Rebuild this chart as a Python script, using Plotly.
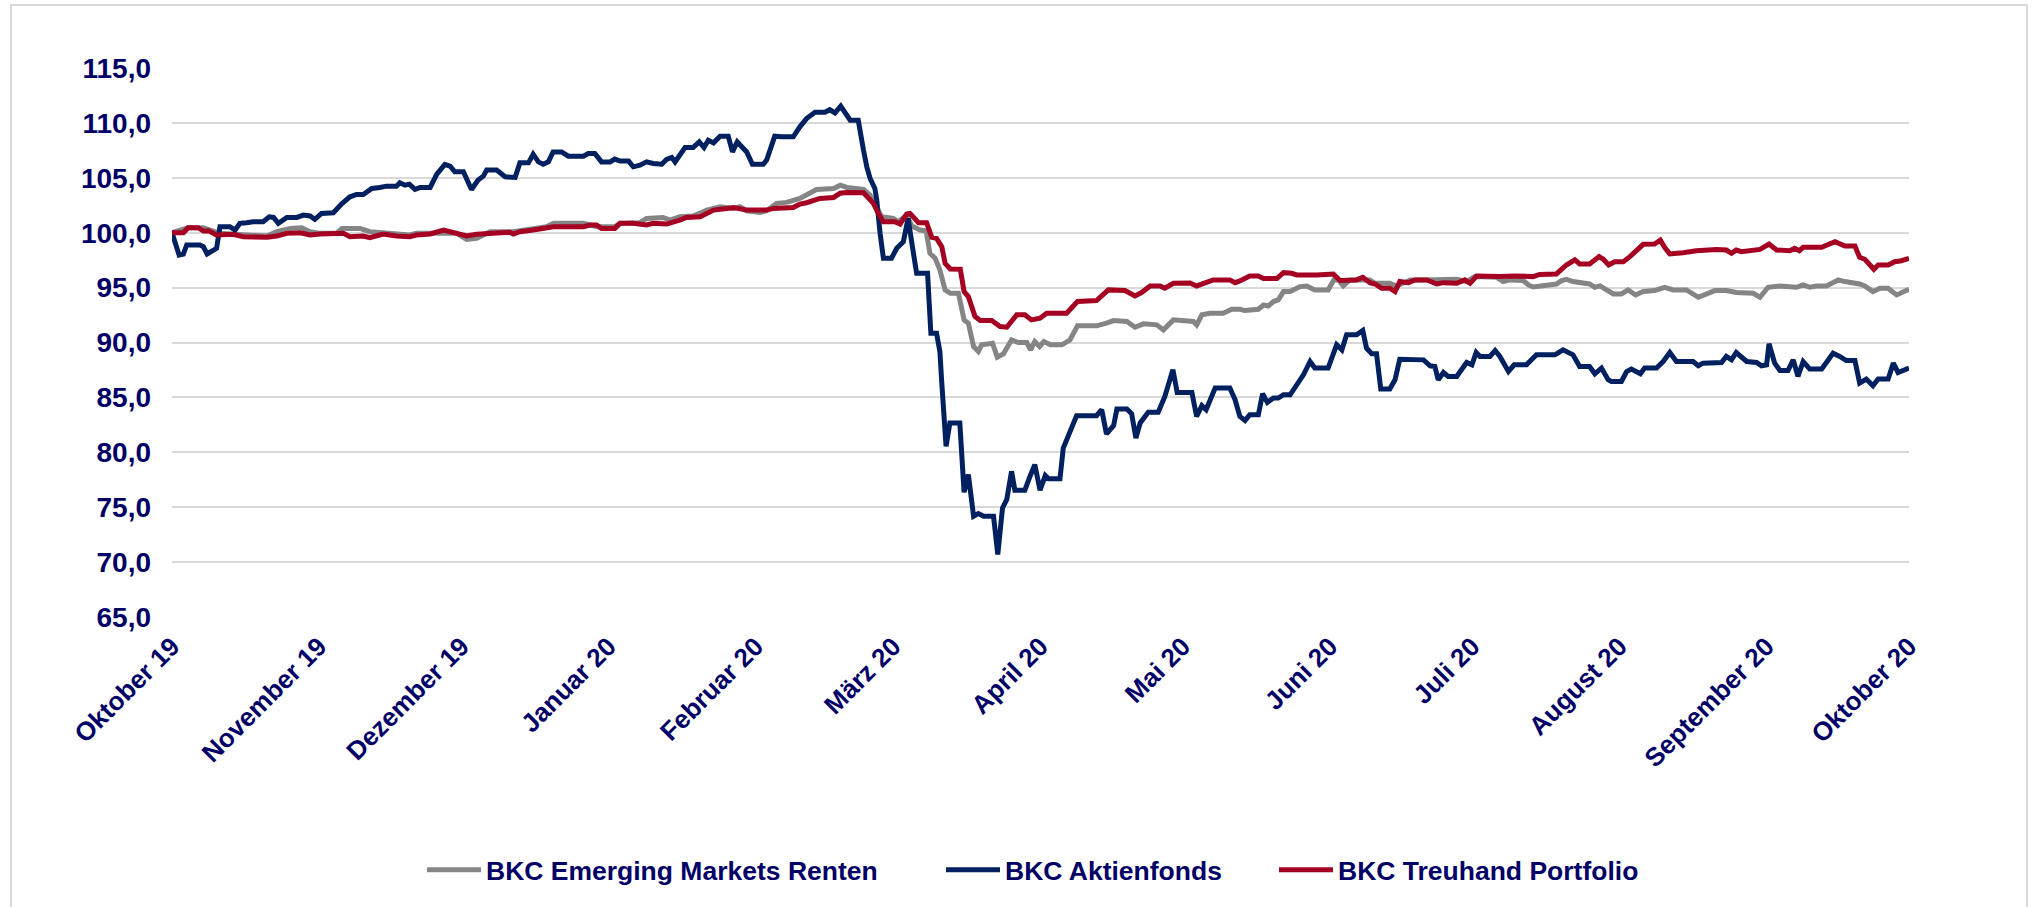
import pandas as pd
import plotly.graph_objects as go

START = pd.Timestamp("2019-10-01")

# Month tick labels (German)
month_labels = ["Oktober 19", "November 19", "Dezember 19", "Januar 20", "Februar 20", "März 20",
                "April 20", "Mai 20", "Juni 20", "Juli 20", "August 20", "September 20", "Oktober 20"]
month_dates = ["2019-10-01", "2019-11-01", "2019-12-01", "2020-01-01", "2020-02-01", "2020-03-01",
               "2020-04-01", "2020-05-01", "2020-06-01", "2020-07-01", "2020-08-01", "2020-09-01", "2020-10-01"]

# ---- BKC Aktienfonds (days since 1 Oct 2019, index value) ----
akt_days = [0, 1.5, 2.4, 3.1, 5.9, 6.6, 7.4, 8.4, 9.4, 10.1, 12.2, 13.3, 14.3, 15.7, 17.1, 19.2, 20.5, 21.4, 22.4,
            24.2, 26.3, 27.7, 29.1, 30.1, 31.5, 34.0, 35.7, 37.5, 38.9, 40.3, 42.1, 43.8, 45.2, 47.3, 48.0, 49.1,
            50.0, 51.2, 52.3, 54.4, 55.8, 57.5, 58.6, 59.6, 61.4, 63.1, 64.5, 65.6, 66.3, 68.4, 70.2, 72.3, 73.3,
            75.1, 76.1, 77.2, 78.2, 79.3, 80.3, 82.1, 83.5, 86.7, 87.7, 89.1, 90.5, 92.3, 93.3, 94.4, 96.2, 97.2,
            98.6, 100.0, 101.4, 103.2, 104.2, 105.3, 106.0, 108.1, 109.8, 111.1, 112.1, 113.0, 114.1, 115.5, 117.2,
            118.1, 119.1, 120.4, 121.1, 122.3, 124.6, 125.3, 127.0, 128.5, 130.9, 132.3, 133.7, 135.5, 137.6, 138.6,
            139.7, 140.9, 141.8, 142.9, 144.6, 145.0, 145.7, 146.4, 147.1, 148.1, 148.5, 149.2, 149.9, 151.6, 152.7,
            154.1, 155.1, 155.9, 156.9, 159.2, 159.9, 161.1, 161.8, 162.2, 163.1, 163.9, 166.0, 166.9, 167.8, 168.9,
            169.9, 171.0, 173.1, 174.0, 175.0, 175.9, 176.9, 177.6, 179.7, 180.8, 181.8, 182.9, 184.0, 184.7, 187.1,
            187.8, 188.9, 190.6, 194.8, 195.9, 196.9, 198.4, 199.1, 201.2, 202.2, 203.1, 204.0, 205.7, 207.8, 209.2,
            210.9, 211.8, 214.9, 215.9, 217.0, 217.9, 219.8, 222.9, 224.0, 225.0, 226.1, 227.1, 228.9, 229.8, 230.8,
            232.1, 233.1, 234.2, 235.6, 237.0, 238.4, 239.8, 240.8, 243.6, 245.4, 246.5, 247.5, 249.6, 250.9, 251.7,
            252.8, 253.8, 254.7, 256.6, 257.7, 258.7, 260.2, 263.7, 265.1, 266.1, 266.8, 267.9, 268.9, 270.7, 271.7,
            272.8, 273.9, 274.8, 275.6, 277.7, 278.8, 279.8, 281.6, 282.8, 285.4, 287.5, 291.4, 293.1, 295.2, 296.6,
            298.7, 299.8, 301.2, 302.6, 303.3, 305.4, 306.5, 307.5, 309.4, 310.3, 312.8, 314.2, 315.6, 317.0, 320.5,
            321.6, 322.6, 326.5, 327.5, 328.6, 329.6, 331.8, 333.9, 334.9, 336.0, 336.5, 337.7, 338.8, 340.5, 341.6,
            342.6, 343.7, 345.1, 347.6, 348.6, 350.0, 351.4, 352.8, 354.6, 355.6, 357.0, 358.4, 359.5, 361.6, 362.7,
            363.7, 366.0]
akt_vals = [100.0, 97.97, 98.06, 98.88, 98.88, 98.73, 98.06, 98.27, 98.58, 100.55, 100.55, 100.24, 100.85, 100.91,
            101.0, 101.0, 101.45, 101.39, 100.85, 101.39, 101.39, 101.6, 101.52, 101.21, 101.76, 101.82, 102.61,
            103.27, 103.48, 103.48, 104.03, 104.12, 104.24, 104.24, 104.55, 104.33, 104.42, 103.94, 104.12, 104.12,
            105.33, 106.21, 106.06, 105.55, 105.55, 103.94, 104.79, 105.15, 105.7, 105.7, 105.09, 105.03, 106.36,
            106.36, 107.15, 106.45, 106.24, 106.45, 107.36, 107.36, 106.97, 106.97, 107.21, 107.21, 106.45, 106.45,
            106.7, 106.52, 106.52, 106.0, 106.15, 106.45, 106.3, 106.24, 106.67, 106.85, 106.45, 107.76, 107.76,
            108.27, 107.76, 108.42, 108.18, 108.79, 108.79, 107.36, 108.27, 107.67, 107.36, 106.24, 106.24, 106.61,
            108.79, 108.73, 108.73, 109.64, 110.39, 110.97, 110.97, 111.21, 110.91, 111.52, 110.85, 110.24, 110.24,
            109.03, 107.52, 106.0, 104.94, 104.03, 102.97, 99.94, 97.67, 97.67, 98.58, 99.18, 101.3, 99.03, 96.3,
            96.3, 90.85, 90.85, 89.18, 86.3, 80.55, 82.67, 82.67, 76.36, 77.97, 74.18, 74.42, 74.18, 74.18, 70.7,
            74.94, 75.7, 78.27, 76.55, 76.55, 77.82, 78.88, 76.55, 77.88, 77.58, 77.58, 80.39, 81.45, 83.33, 83.33,
            83.88, 81.67, 82.42, 83.94, 83.94, 83.52, 81.3, 82.67, 83.64, 83.64, 85.09, 87.52, 85.45, 85.45, 83.27,
            84.24, 83.88, 85.85, 85.85, 84.79, 83.27, 82.9, 83.42, 83.42, 85.33, 84.55, 84.94, 84.94, 85.24, 85.24,
            86.06, 87.06, 88.27, 87.67, 87.67, 89.79, 89.33, 90.7, 90.7, 91.09, 89.48, 88.97, 88.97, 85.76, 85.76,
            86.6, 88.48, 88.48, 88.42, 87.88, 87.82, 86.6, 87.27, 86.91, 86.91, 87.52, 88.18, 87.97, 89.09, 88.73,
            88.73, 89.27, 88.73, 87.36, 87.97, 87.97, 88.88, 88.88, 89.33, 88.88, 87.82, 87.82, 87.15, 87.67, 86.61,
            86.45, 86.45, 87.36, 87.58, 87.15, 87.67, 87.67, 88.27, 89.09, 88.27, 88.27, 87.88, 88.12, 88.18, 88.73,
            88.42, 89.09, 88.27, 88.18, 87.88, 87.97, 89.88, 88.12, 87.45, 87.45, 88.42, 86.91, 88.27, 87.58, 87.58,
            88.18, 89.03, 88.73, 88.36, 88.36, 86.3, 86.67, 86.06, 86.67, 86.67, 88.12, 87.27, 87.67]

# ---- BKC Treuhand Portfolio ----
tre_days = [0, 2.4, 3.4, 5.5, 6.6, 7.7, 9.4, 12.9, 15.0, 20.0, 22.1, 24.2, 27.0, 29.1, 31.2, 36.1, 37.5, 40.3, 41.7,
            44.5, 47.3, 50.1, 51.5, 54.4, 57.2, 60.0, 62.1, 64.2, 67.0, 71.2, 71.9, 73.3, 76.1, 78.9, 80.4, 86.7,
            88.1, 89.5, 90.5, 93.3, 94.4, 97.2, 100.0, 101.4, 104.2, 107.0, 108.4, 111.3, 114.1, 116.9, 118.3, 121.1,
            123.9, 125.3, 126.7, 130.9, 132.3, 133.7, 136.5, 139.4, 140.8, 142.2, 145.7, 146.7, 147.8, 148.8, 149.9,
            152.3, 153.4, 154.8, 155.5, 157.3, 159.0, 160.1, 161.1, 162.2, 162.9, 164.0, 166.1, 166.9, 167.8, 169.2,
            170.3, 172.7, 174.5, 175.9, 178.0, 179.7, 181.1, 182.9, 184.3, 188.5, 190.8, 194.8, 197.3, 200.8, 202.9,
            204.3, 206.1, 208.2, 209.2, 211.0, 214.5, 215.9, 217.3, 219.4, 222.9, 224.0, 225.0, 227.1, 228.9, 230.0,
            232.8, 234.2, 235.9, 237.0, 241.2, 244.7, 246.1, 249.6, 250.9, 252.4, 253.5, 254.9, 256.6, 257.7, 258.7,
            260.5, 261.9, 264.4, 266.5, 267.9, 270.7, 272.4, 273.5, 274.9, 279.8, 283.0, 286.8, 288.2, 291.7, 293.8,
            295.6, 296.6, 298.7, 300.7, 301.6, 302.7, 304.0, 305.8, 307.2, 310.0, 312.4, 313.6, 314.5, 315.6, 318.4,
            321.2, 325.4, 327.5, 328.6, 329.6, 330.7, 334.6, 336.5, 338.1, 340.9, 341.9, 342.9, 343.7, 347.6, 350.4,
            352.5, 354.6, 355.6, 356.7, 358.6, 359.5, 361.6, 363.0, 364.4, 366.0]
tre_vals = [100.0, 100.0, 100.45, 100.45, 100.15, 100.18, 99.79, 99.85, 99.64, 99.58, 99.7, 99.94, 100.0, 99.79, 99.88,
            99.94, 99.64, 99.7, 99.55, 99.88, 99.7, 99.64, 99.79, 99.88, 100.24, 99.94, 99.7, 99.85, 99.94, 100.03,
            99.88, 100.09, 100.24, 100.39, 100.55, 100.55, 100.7, 100.7, 100.39, 100.39, 100.85, 100.85, 100.7, 100.85,
            100.79, 101.15, 101.39, 101.45, 102.06, 102.21, 102.3, 102.06, 102.0, 102.06, 102.21, 102.3, 102.61,
            102.73, 103.12, 103.21, 103.6, 103.67, 103.64, 103.12, 102.67, 101.76, 101.0, 101.0, 100.79, 101.7, 101.76,
            100.91, 100.91, 99.58, 99.48, 98.73, 97.21, 96.7, 96.67, 94.64, 94.18, 92.36, 92.0, 92.0, 91.45, 91.39,
            92.52, 92.52, 92.06, 92.21, 92.67, 92.67, 93.73, 93.82, 94.79, 94.73, 94.24, 94.55, 95.15, 95.15, 94.94,
            95.39, 95.42, 95.15, 95.33, 95.7, 95.7, 95.45, 95.61, 96.06, 96.06, 95.82, 95.82, 96.36, 96.3, 96.15,
            96.15, 96.24, 95.64, 95.7, 95.94, 95.45, 95.33, 94.94, 94.94, 94.64, 95.55, 95.45, 95.7, 95.7, 95.33,
            95.45, 95.39, 95.7, 95.39, 96.06, 96.0, 96.06, 96.0, 96.2, 96.24, 97.06, 97.52, 97.15, 97.15, 97.82,
            97.58, 97.06, 97.36, 97.36, 97.82, 98.94, 98.97, 99.33, 98.67, 98.06, 98.18, 98.36, 98.48, 98.42, 98.12,
            98.42, 98.27, 98.48, 98.97, 98.42, 98.36, 98.58, 98.36, 98.67, 98.67, 99.18, 98.79, 98.79, 97.76, 97.58,
            96.67, 97.06, 97.06, 97.36, 97.45, 97.67]

# ---- BKC Emerging Markets Renten ----
emr_days = [0, 2.4, 3.4, 6.6, 8.4, 10.1, 12.9, 15.0, 20.0, 22.1, 24.9, 27.3, 29.1, 31.2, 34.7, 35.8, 39.6, 41.7, 44.5,
            47.3, 50.1, 51.5, 54.4, 57.2, 60.0, 62.1, 64.2, 65.6, 67.0, 71.9, 78.9, 80.4, 86.7, 89.5, 93.3, 94.4, 98.6,
            100.0, 103.5, 104.9, 107.0, 109.8, 112.7, 115.5, 118.3, 119.7, 121.1, 123.9, 125.3, 127.4, 129.5, 132.3,
            135.8, 139.4, 140.8, 142.2, 145.7, 147.1, 148.1, 149.5, 152.0, 153.0, 154.8, 155.9, 157.6, 158.9, 159.7,
            160.8, 161.8, 162.9, 164.0, 165.7, 166.9, 167.8, 168.9, 169.9, 170.6, 172.9, 173.9, 175.2, 176.9, 178.3,
            180.1, 180.9, 181.8, 182.8, 183.7, 185.1, 187.5, 189.2, 190.8, 194.8, 196.9, 198.4, 201.2, 202.9, 204.7,
            207.5, 208.9, 211.0, 215.2, 215.9, 217.0, 218.7, 221.5, 223.3, 225.0, 226.1, 228.9, 230.0, 231.0, 232.1,
            233.1, 234.2, 235.6, 237.7, 239.1, 240.8, 243.6, 244.8, 245.8, 246.8, 248.2, 252.4, 253.5, 256.6, 258.0,
            260.9, 263.7, 267.2, 270.7, 272.8, 274.5, 279.1, 280.5, 281.9, 284.7, 285.8, 286.8, 291.7, 292.8, 293.8,
            295.2, 298.7, 299.8, 300.9, 302.3, 303.7, 305.4, 306.8, 308.4, 310.0, 312.4, 314.5, 316.3, 319.1, 321.6,
            323.7, 325.1, 327.5, 329.6, 333.2, 334.6, 336.3, 338.8, 342.3, 343.7, 345.1, 346.5, 348.6, 351.1, 352.5,
            354.2, 355.6, 356.7, 358.4, 359.9, 361.6, 363.4, 366.0]
emr_vals = [100.0, 100.24, 100.45, 100.45, 100.18, 99.94, 99.85, 99.79, 99.7, 100.09, 100.39, 100.45, 100.09, 99.94,
            99.94, 100.39, 100.39, 100.09, 100.0, 99.88, 99.79, 99.94, 99.94, 100.0, 99.94, 99.39, 99.48, 99.79,
            100.09, 100.09, 100.55, 100.85, 100.85, 100.55, 100.55, 100.85, 100.91, 101.3, 101.39, 101.15, 101.45,
            101.52, 102.06, 102.36, 102.21, 102.36, 102.0, 101.85, 102.0, 102.67, 102.76, 103.12, 103.94, 104.03,
            104.33, 104.12, 103.94, 103.42, 102.52, 101.45, 101.3, 101.0, 101.61, 100.61, 100.24, 100.18, 98.12,
            97.67, 96.61, 94.79, 94.48, 94.48, 92.06, 91.76, 89.64, 89.18, 89.79, 89.94, 88.67, 88.97, 90.24, 90.0,
            90.0, 89.33, 90.09, 89.64, 90.09, 89.79, 89.79, 90.24, 91.52, 91.52, 91.76, 92.0, 91.91, 91.39, 91.7,
            91.61, 91.15, 92.06, 91.91, 91.6, 92.52, 92.67, 92.67, 93.03, 93.03, 92.91, 93.03, 93.42, 93.33, 93.73,
            93.88, 94.64, 94.64, 95.09, 95.15, 94.79, 94.79, 95.7, 95.7, 95.15, 95.7, 95.7, 95.39, 95.39, 95.15,
            95.7, 95.7, 95.76, 95.76, 95.55, 96.0, 95.94, 95.55, 95.7, 95.64, 95.24, 95.05, 95.33, 95.64, 95.76,
            95.55, 95.33, 95.03, 95.15, 94.79, 94.42, 94.42, 94.79, 94.33, 94.64, 94.73, 95.03, 94.79, 94.79, 94.12,
            94.42, 94.73, 94.73, 94.55, 94.48, 94.12, 95.03, 95.15, 95.03, 95.24, 95.03, 95.15, 95.15, 95.7, 95.55,
            95.45, 95.33, 95.15, 94.64, 94.94, 94.94, 94.33, 94.85]

series_names = ["BKC Emerging Markets Renten", "BKC Aktienfonds", "BKC Treuhand Portfolio"]
series_days = [emr_days, akt_days, tre_days]
series_vals = [emr_vals, akt_vals, tre_vals]
series_colors = ["#858585", "#002060", "#A50021"]

TEXT = "#000066"
FONT = "Arial, 'Liberation Sans', sans-serif"

L, R, T, B = 172, 131, 68, 290
W, H = 2040, 907
pw, ph = W - L - R, H - T - B

def px(xp):
    return (xp - L) / pw

def py(yp):
    return (H - B - yp) / ph

legend_ids = ["legend", "legend2", "legend3"]
legend_x_px = [422, 941, 1274]

fig = go.Figure()
for name, days, vals, color, lid in zip(series_names, series_days, series_vals, series_colors, legend_ids):
    x = [START + pd.Timedelta(days=d) for d in days]
    fig.add_trace(go.Scatter(x=x, y=vals, name=name, mode="lines", legend=lid,
                             line=dict(color=color, width=5)))

legend_font = dict(family=FONT, size=26.5, color=TEXT, weight="bold")
legends = {}
for lid, lx in zip(legend_ids, legend_x_px):
    legends[lid] = dict(orientation="h", x=px(lx), xanchor="left", y=py(870), yanchor="middle",
                        font=legend_font, itemwidth=54, bgcolor="rgba(0,0,0,0)")

fig.update_layout(
    width=W, height=H,
    margin=dict(l=L, r=R, t=T, b=B),
    paper_bgcolor="white", plot_bgcolor="white",
    separators=",.",
    font=dict(family=FONT, size=26, color=TEXT, weight="bold"),
    showlegend=True,
    xaxis=dict(type="date", range=[month_dates[0], month_dates[-1]],
               tickvals=month_dates, ticktext=month_labels, tickangle=-45,
               showgrid=False, zeroline=False, showline=False, ticks="",
               ticklabelstandoff=8,
               tickfont=dict(family=FONT, size=26, color=TEXT, weight="bold")),
    yaxis=dict(range=[65, 115], tick0=65, dtick=5, tickformat=".1f",
               showgrid=True, gridcolor="#D9D9D9", gridwidth=2, zeroline=False,
               showline=False, ticks="", ticklabelstandoff=20,
               tickfont=dict(family=FONT, size=28, color=TEXT, weight="bold")),
    shapes=[dict(type="rect", xref="paper", yref="paper",
                 x0=px(11), x1=px(2027), y0=py(915), y1=py(5),
                 line=dict(color="#D9D9D9", width=2), fillcolor="rgba(0,0,0,0)", layer="below")],
    **legends,
)

fig.write_html("out.html", config={"displayModeBar": False},
               post_script="document.body.style.margin='0';document.body.style.overflow='hidden';")
